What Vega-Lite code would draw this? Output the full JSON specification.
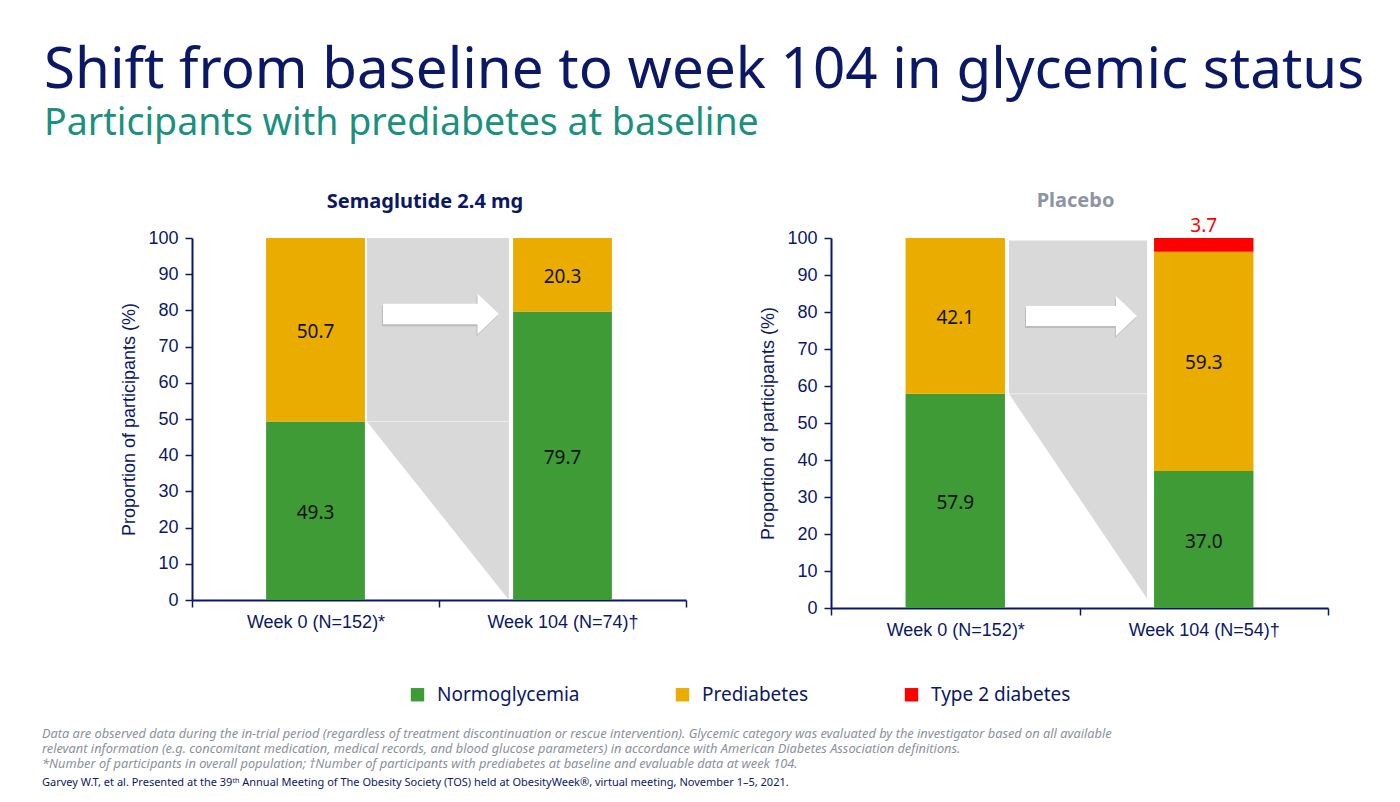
{
  "$schema": "https://vega.github.io/schema/vega-lite/v6.json",
  "background": "white",
  "padding": {"left": 41, "top": 43, "right": 10, "bottom": 10},
  "title": {
    "text": "Shift from baseline to week 104 in glycemic status",
    "subtitle": "Participants with prediabetes at baseline",
    "anchor": "start",
    "frame": "bounds",
    "dx": 2,
    "offset": 49,
    "font": "Noto Sans",
    "fontSize": 56.5,
    "fontWeight": "normal",
    "color": "#0b1866",
    "subtitleFont": "Noto Sans",
    "subtitleFontSize": 37.5,
    "subtitleColor": "#1b9080",
    "subtitlePadding": 5
  },
  "datasets": {
    "sema_bars": [
      {"week": "Week 0 (N=152)*", "status": "Normoglycemia", "ord": 1, "pct": 49.3},
      {"week": "Week 0 (N=152)*", "status": "Prediabetes", "ord": 2, "pct": 50.7},
      {"week": "Week 104 (N=74)†", "status": "Normoglycemia", "ord": 1, "pct": 79.7},
      {"week": "Week 104 (N=74)†", "status": "Prediabetes", "ord": 2, "pct": 20.3}
    ],
    "placebo_bars": [
      {"week": "Week 0 (N=152)*", "status": "Normoglycemia", "ord": 1, "pct": 57.9},
      {"week": "Week 0 (N=152)*", "status": "Prediabetes", "ord": 2, "pct": 42.1},
      {"week": "Week 104 (N=54)†", "status": "Normoglycemia", "ord": 1, "pct": 37.0},
      {"week": "Week 104 (N=54)†", "status": "Prediabetes", "ord": 2, "pct": 59.3},
      {"week": "Week 104 (N=54)†", "status": "Type 2 diabetes", "ord": 3, "pct": 3.7}
    ]
  },
  "vconcat": [
    {
      "title": {
        "text": [
          "Data are observed data during the in-trial period (regardless of treatment discontinuation or rescue intervention). Glycemic category was evaluated by the investigator based on all available",
          "relevant information (e.g. concomitant medication, medical records, and blood glucose parameters) in accordance with American Diabetes Association definitions.",
          "*Number of participants in overall population; †Number of participants with prediabetes at baseline and evaluable data at week 104."
        ],
        "subtitle": "Garvey W.T, et al. Presented at the 39ᵗʰ Annual Meeting of The Obesity Society (TOS) held at ObesityWeek®, virtual meeting, November 1–5, 2021.",
        "orient": "bottom",
        "anchor": "start",
        "frame": "bounds",
        "dx": -79,
        "offset": 89,
        "font": "Noto Sans",
        "fontSize": 12.8,
        "fontStyle": "italic",
        "fontWeight": "normal",
        "color": "#8b909b",
        "lineHeight": 15,
        "subtitleFont": "Noto Sans",
        "subtitleFontSize": 11,
        "subtitleFontStyle": "normal",
        "subtitleColor": "#0b1866",
        "subtitlePadding": 6
      },
      "spacing": 72,
      "hconcat": [
        {
          "width": 494,
          "height": 362,
          "title": {"text": "Semaglutide 2.4 mg", "color": "#0b1866", "frame": "group", "dx": -14, "offset": 17},
          "resolve": {"scale": {"x": "independent"}},
          "layer": [
            {
              "encoding": {
                "x": {"field": "pos", "type": "quantitative", "scale": {"domain": [0, 2], "nice": false, "zero": false}, "axis": null}
              },
              "layer": [
                {
                  "data": {"values": [
                    {"pos": 0.708, "top": 100, "bottom": 49.3},
                    {"pos": 1.283, "top": 100, "bottom": 0}
                  ]},
                  "mark": {"type": "area", "orient": "vertical", "color": "#d9d9d9", "opacity": 1},
                  "encoding": {
                    "y": {"field": "top", "type": "quantitative", "scale": {"domain": [0, 100], "nice": false}, "axis": {"title": "Proportion of participants (%)"}},
                    "y2": {"field": "bottom"}
                  }
                },
                {
                  "data": {"values": [{"pos": 0.708, "pos2": 1.283, "level": 49.3}]},
                  "mark": {"type": "rule", "color": "white", "opacity": 0.5, "strokeWidth": 1},
                  "encoding": {
                    "x2": {"field": "pos2"},
                    "y": {"field": "level", "type": "quantitative", "axis": {"title": "Proportion of participants (%)"}}
                  }
                },
                {
                  "data": {"values": [{"pos": 1.008, "level": 79.0}]},
                  "layer": [
                    {
                      "mark": {"type": "point", "shape": "M-1,-0.175L0.63,-0.175L0.63,-0.35L1,0L0.63,0.35L0.63,0.175L-1,0.175Z", "size": 13456, "filled": true, "color": "#9a9a9a", "opacity": 0.45, "strokeWidth": 0, "xOffset": -1, "yOffset": 2}
                    },
                    {
                      "mark": {"type": "point", "shape": "M-1,-0.175L0.63,-0.175L0.63,-0.35L1,0L0.63,0.35L0.63,0.175L-1,0.175Z", "size": 13456, "filled": true, "color": "#ffffff", "opacity": 1, "strokeWidth": 0}
                    }
                  ],
                  "encoding": {
                    "y": {"field": "level", "type": "quantitative", "axis": {"title": "Proportion of participants (%)"}}
                  }
                }
              ]
            },
            {
              "data": {"name": "sema_bars"},
              "encoding": {
                "x": {
                  "field": "week", "type": "nominal", "sort": null,
                  "scale": {"paddingInner": 0, "paddingOuter": 0},
                  "axis": {"title": null, "labelAngle": 0, "tickBand": "extent", "labelPadding": 6}
                }
              },
              "layer": [
                {
                  "mark": {"type": "bar", "width": {"band": 0.4}},
                  "encoding": {
                    "y": {
                      "field": "pct", "type": "quantitative", "stack": "zero",
                      "scale": {"domain": [0, 100], "nice": false},
                      "axis": {"title": "Proportion of participants (%)"}
                    },
                    "color": {
                      "field": "status", "type": "nominal",
                      "scale": {"domain": ["Normoglycemia", "Prediabetes", "Type 2 diabetes"], "range": ["#3f9b36", "#ebac00", "#ff0000"]},
                      "legend": {
                        "title": null, "orient": "none", "direction": "horizontal",
                        "legendX": 216, "legendY": 447,
                        "symbolType": "square", "symbolSize": 180, "symbolStrokeWidth": 0, "symbolOpacity": 1,
                        "labelFont": "Noto Sans", "labelFontSize": 19, "labelColor": "#0b1866", "labelOffset": 10,
                        "columnPadding": 93, "padding": 0
                      }
                    },
                    "order": {"field": "ord"}
                  }
                },
                {
                  "transform": [
                    {"stack": "pct", "groupby": ["week"], "sort": [{"field": "ord"}], "as": ["y0", "y1"]},
                    {"calculate": "(datum.y0 + datum.y1) / 2", "as": "mid"},
                    {"filter": "datum.status !== 'Type 2 diabetes'"}
                  ],
                  "mark": {"type": "text", "font": "Noto Sans", "fontSize": 19, "color": "#111111", "baseline": "middle", "dy": 2},
                  "encoding": {
                    "y": {"field": "mid", "type": "quantitative", "axis": {"title": "Proportion of participants (%)"}},
                    "text": {"field": "pct", "type": "quantitative", "format": ".1f"}
                  }
                }
              ]
            }
          ]
        },
        {
          "width": 497,
          "height": 370,
          "title": {"text": "Placebo", "color": "#8d95a4", "frame": "group", "dx": -4, "offset": 6},
          "resolve": {"scale": {"x": "independent"}},
          "layer": [
            {
              "encoding": {
                "x": {"field": "pos", "type": "quantitative", "scale": {"domain": [0, 2], "nice": false, "zero": false}, "axis": null}
              },
              "layer": [
                {
                  "data": {"values": [
                    {"pos": 0.716, "top": 99.3, "bottom": 57.9},
                    {"pos": 1.272, "top": 99.3, "bottom": 2.5}
                  ]},
                  "mark": {"type": "area", "orient": "vertical", "color": "#d9d9d9", "opacity": 1},
                  "encoding": {
                    "y": {"field": "top", "type": "quantitative", "scale": {"domain": [0, 100], "nice": false}, "axis": {"title": "Proportion of participants (%)"}},
                    "y2": {"field": "bottom"}
                  }
                },
                {
                  "data": {"values": [{"pos": 0.716, "pos2": 1.272, "level": 57.9}]},
                  "mark": {"type": "rule", "color": "white", "opacity": 0.5, "strokeWidth": 1},
                  "encoding": {
                    "x2": {"field": "pos2"},
                    "y": {"field": "level", "type": "quantitative", "axis": {"title": "Proportion of participants (%)"}}
                  }
                },
                {
                  "data": {"values": [{"pos": 1.008, "level": 78.9}]},
                  "layer": [
                    {
                      "mark": {"type": "point", "shape": "M-1,-0.18L0.62,-0.18L0.62,-0.36L1,0L0.62,0.36L0.62,0.18L-1,0.18Z", "size": 12321, "filled": true, "color": "#9a9a9a", "opacity": 0.45, "strokeWidth": 0, "xOffset": -1, "yOffset": 2}
                    },
                    {
                      "mark": {"type": "point", "shape": "M-1,-0.18L0.62,-0.18L0.62,-0.36L1,0L0.62,0.36L0.62,0.18L-1,0.18Z", "size": 12321, "filled": true, "color": "#ffffff", "opacity": 1, "strokeWidth": 0}
                    }
                  ],
                  "encoding": {
                    "y": {"field": "level", "type": "quantitative", "axis": {"title": "Proportion of participants (%)"}}
                  }
                }
              ]
            },
            {
              "data": {"name": "placebo_bars"},
              "encoding": {
                "x": {
                  "field": "week", "type": "nominal", "sort": null,
                  "scale": {"paddingInner": 0, "paddingOuter": 0},
                  "axis": {"title": null, "labelAngle": 0, "tickBand": "extent", "labelPadding": 6}
                }
              },
              "layer": [
                {
                  "mark": {"type": "bar", "width": {"band": 0.4}},
                  "encoding": {
                    "y": {
                      "field": "pct", "type": "quantitative", "stack": "zero",
                      "scale": {"domain": [0, 100], "nice": false},
                      "axis": {"title": "Proportion of participants (%)"}
                    },
                    "color": {"field": "status", "type": "nominal"},
                    "order": {"field": "ord"}
                  }
                },
                {
                  "transform": [
                    {"stack": "pct", "groupby": ["week"], "sort": [{"field": "ord"}], "as": ["y0", "y1"]},
                    {"calculate": "(datum.y0 + datum.y1) / 2", "as": "mid"},
                    {"filter": "datum.status !== 'Type 2 diabetes'"}
                  ],
                  "mark": {"type": "text", "font": "Noto Sans", "fontSize": 19, "color": "#111111", "baseline": "middle", "dy": 2},
                  "encoding": {
                    "y": {"field": "mid", "type": "quantitative", "axis": {"title": "Proportion of participants (%)"}},
                    "text": {"field": "pct", "type": "quantitative", "format": ".1f"}
                  }
                },
                {
                  "transform": [
                    {"stack": "pct", "groupby": ["week"], "sort": [{"field": "ord"}], "as": ["y0", "y1"]},
                    {"filter": "datum.status === 'Type 2 diabetes'"}
                  ],
                  "mark": {"type": "text", "font": "Noto Sans", "fontSize": 19, "color": "#ff0000", "baseline": "alphabetic", "dy": -6},
                  "encoding": {
                    "y": {"field": "y1", "type": "quantitative", "axis": {"title": "Proportion of participants (%)"}},
                    "text": {"field": "pct", "type": "quantitative", "format": ".1f"}
                  }
                }
              ]
            }
          ]
        }
      ]
    }
  ],
  "config": {
    "view": {"stroke": null},
    "font": "Noto Sans",
    "title": {"font": "Noto Sans", "fontSize": 20, "fontWeight": "bold", "offset": 24},
    "axis": {
      "grid": false,
      "domainColor": "#0b1866",
      "domainWidth": 2,
      "tickColor": "#0b1866",
      "tickWidth": 1.5,
      "tickSize": 7,
      "labelFont": "Liberation Sans",
      "labelFontSize": 18,
      "labelColor": "#0b1866",
      "labelPadding": 7,
      "titleFont": "Liberation Sans",
      "titleFontSize": 18,
      "titleFontWeight": "normal",
      "titleColor": "#0b1866",
      "titlePadding": 9
    },
    "axisY": {"tickCount": 11}
  }
}
